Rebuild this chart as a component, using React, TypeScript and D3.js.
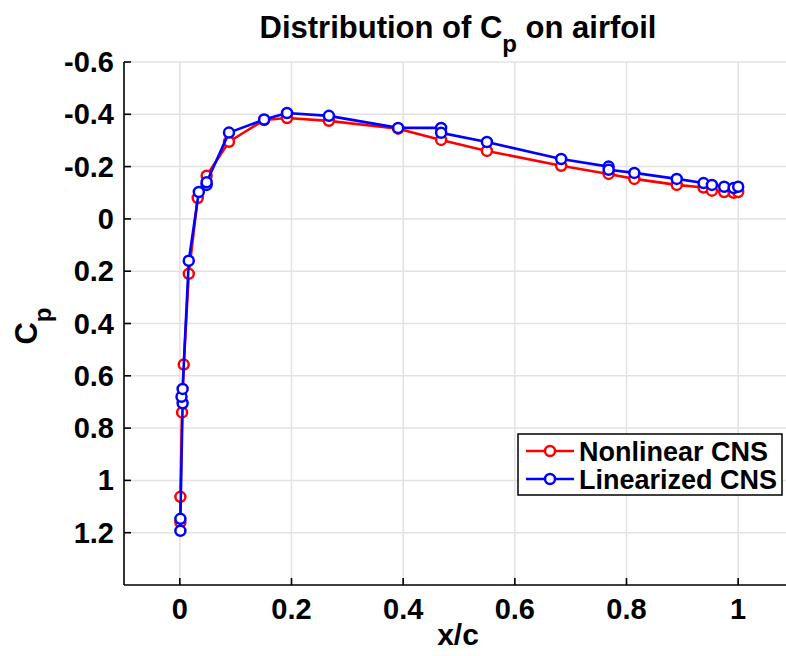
import React from "react";
import * as d3 from "d3";

const xTicks = [0, 0.2, 0.4, 0.6, 0.8, 1];
const yTicks = [-0.6, -0.4, -0.2, 0, 0.2, 0.4, 0.6, 0.8, 1, 1.2];

const nonlinearX = [0.001, 0.001, 0.004, 0.007, 0.016, 0.032, 0.048, 0.088, 0.151, 0.192, 0.267, 0.391, 0.468, 0.55, 0.683, 0.768, 0.814, 0.89, 0.938, 0.953, 0.975, 0.992, 1.0];
const nonlinearCp = [1.16, 1.063, 0.74, 0.557, 0.21, -0.08, -0.165, -0.295, -0.378, -0.386, -0.375, -0.345, -0.302, -0.26, -0.203, -0.172, -0.153, -0.13, -0.12, -0.108, -0.103, -0.1, -0.103];

const linearX = [0.001, 0.001, 0.005, 0.003, 0.005, 0.016, 0.034, 0.048, 0.048, 0.088, 0.151, 0.192, 0.267, 0.391, 0.468, 0.468, 0.55, 0.683, 0.768, 0.768, 0.814, 0.89, 0.938, 0.953, 0.975, 0.992, 1.0];
const linearCp = [1.193, 1.147, 0.705, 0.68, 0.65, 0.16, -0.103, -0.13, -0.14, -0.33, -0.38, -0.405, -0.394, -0.348, -0.348, -0.329, -0.294, -0.229, -0.2, -0.188, -0.176, -0.153, -0.137, -0.13, -0.123, -0.118, -0.123];

const seriesNames = ["Nonlinear CNS", "Linearized CNS"];
const seriesColors = ["#ff0000", "#0000ff"];

const W = 786;
const H = 656;
const FONT = "'Liberation Sans', Arial, Helvetica, sans-serif";

export default function App() {
  const x = d3.scaleLinear().domain([-0.1, 1.1]).range([124, 794]);
  const y = d3.scaleLinear().domain([-0.6, 1.4]).range([62, 585]);
  const line = d3
    .line<[number, number]>()
    .x((d) => x(d[0]))
    .y((d) => y(d[1]));

  const series = [
    nonlinearX.map((v, i) => [v, nonlinearCp[i]] as [number, number]),
    linearX.map((v, i) => [v, linearCp[i]] as [number, number]),
  ];

  const fmt = (v: number) => (Math.abs(v) < 1e-9 ? "0" : String(+v.toFixed(1)));

  return (
    <svg
      width={W}
      height={H}
      style={{ position: "absolute", left: 0, top: 0, background: "#fff" }}
      fontFamily={FONT}
    >
      <rect x={0} y={0} width={W} height={H} fill="#fff" />
      {/* grid */}
      {xTicks.map((t) => (
        <line key={"gx" + t} x1={x(t)} x2={x(t)} y1={y(-0.6)} y2={y(1.4)} stroke="#e2e2e2" strokeWidth={1.5} />
      ))}
      {yTicks.map((t) => (
        <line key={"gy" + t} x1={x(-0.1)} x2={x(1.1)} y1={y(t)} y2={y(t)} stroke="#e2e2e2" strokeWidth={1.5} />
      ))}
      {/* axes */}
      <line x1={x(-0.1)} x2={x(-0.1)} y1={y(-0.6)} y2={y(1.4)} stroke="#000" strokeWidth={1.6} />
      <line x1={x(-0.1)} x2={x(1.1)} y1={y(1.4)} y2={y(1.4)} stroke="#000" strokeWidth={1.6} />
      {xTicks.map((t) => (
        <g key={"xt" + t}>
          <line x1={x(t)} x2={x(t)} y1={y(1.4)} y2={y(1.4) - 7} stroke="#000" strokeWidth={1.6} />
          <text x={x(t)} y={619} textAnchor="middle" fontSize={29} fontWeight="bold">
            {fmt(t)}
          </text>
        </g>
      ))}
      {yTicks.map((t) => (
        <g key={"yt" + t}>
          <line x1={x(-0.1)} x2={x(-0.1) + 7} y1={y(t)} y2={y(t)} stroke="#000" strokeWidth={1.6} />
          <text x={114} y={y(t) + 10} textAnchor="end" fontSize={29} fontWeight="bold">
            {fmt(t)}
          </text>
        </g>
      ))}
      {/* series */}
      {series.map((s, i) => (
        <g key={"s" + i}>
          <path d={line(s) || ""} fill="none" stroke={seriesColors[i]} strokeWidth={2.6} strokeLinejoin="round" />
          {s.map((d, j) => (
            <circle key={j} cx={x(d[0])} cy={y(d[1])} r={5} fill="#fff" stroke={seriesColors[i]} strokeWidth={2.5} />
          ))}
        </g>
      ))}
      {/* title */}
      <text x={458} y={38} textAnchor="middle" fontSize={31} fontWeight="bold">
        Distribution of C
        <tspan fontSize={24} dy={14}>p</tspan>
        <tspan dy={-14}> on airfoil</tspan>
      </text>
      {/* axis labels */}
      <text x={458} y={645} textAnchor="middle" fontSize={30} fontWeight="bold">
        x/c
      </text>
      <text transform="translate(37,326) rotate(-90)" textAnchor="middle" fontSize={31} fontWeight="bold">
        C<tspan fontSize={24} dy={14}>p</tspan>
      </text>
      {/* legend */}
      <rect x={518} y={434} width={264} height={61} fill="#fff" stroke="#000" strokeWidth={1.5} />
      {seriesNames.map((n, i) => {
        const cy = 451 + i * 28;
        return (
          <g key={"lg" + i}>
            <line x1={526} x2={574} y1={cy} y2={cy} stroke={seriesColors[i]} strokeWidth={2.6} />
            <circle cx={550} cy={cy} r={5} fill="#fff" stroke={seriesColors[i]} strokeWidth={2.5} />
            <text x={579} y={cy + 10} fontSize={27} fontWeight="bold">
              {n}
            </text>
          </g>
        );
      })}
    </svg>
  );
}
